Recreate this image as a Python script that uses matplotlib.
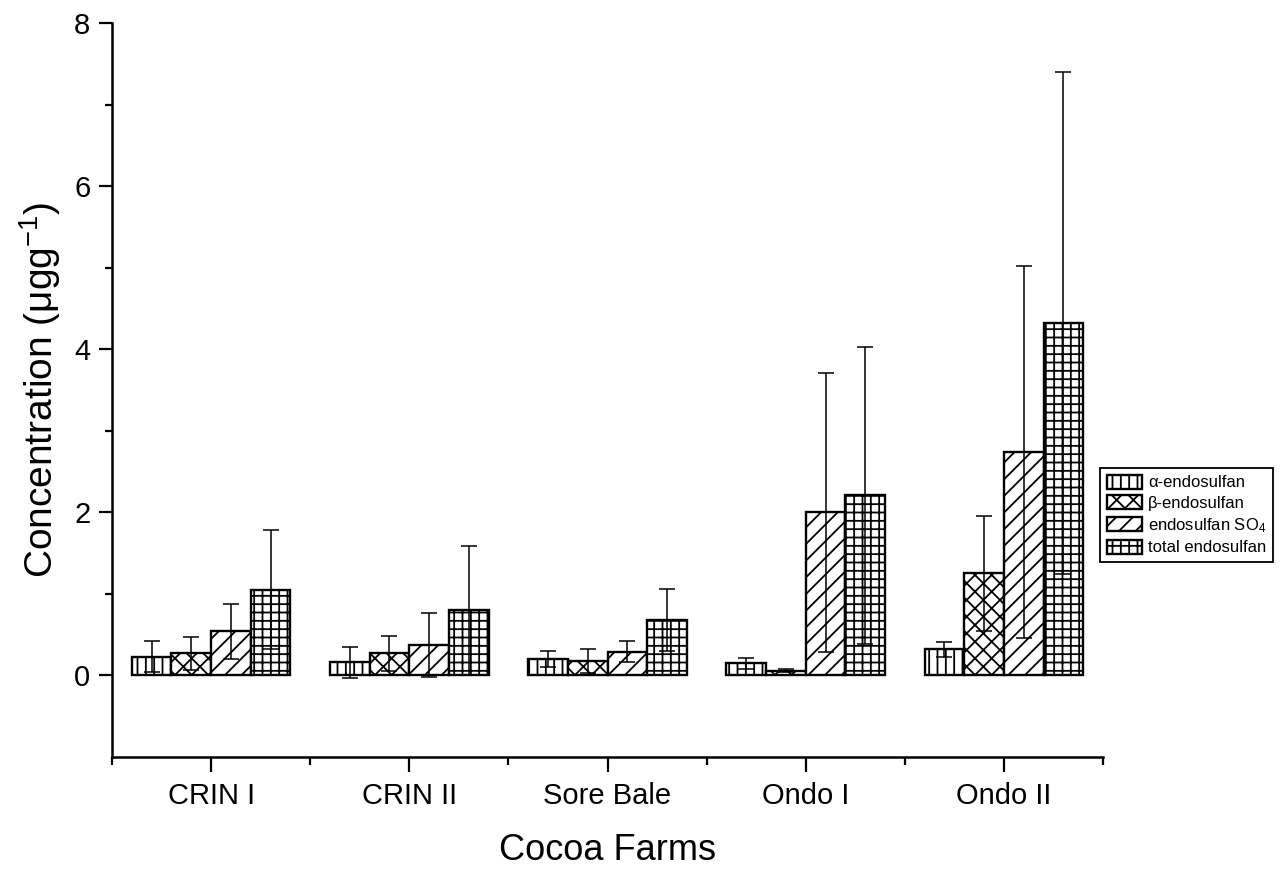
import matplotlib
matplotlib.use('Agg')
import matplotlib.pyplot as plt
from matplotlib.ticker import FixedLocator
import numpy as np

plt.rcParams['font.family'] = ['Liberation Sans', 'DejaVu Sans']
plt.rcParams['mathtext.fontset'] = 'custom'
plt.rcParams['mathtext.rm'] = 'Liberation Sans'
plt.rcParams['mathtext.it'] = 'Liberation Sans:italic'
plt.rcParams['hatch.linewidth'] = 1.3

# farms on the x axis
farms = ['CRIN I', 'CRIN II', 'Sore Bale', 'Ondo I', 'Ondo II']

# mean concentrations and error bars (ug/g)
alpha = [0.23, 0.16, 0.20, 0.15, 0.32]
alpha_err = [0.19, 0.19, 0.10, 0.07, 0.09]
beta = [0.27, 0.27, 0.18, 0.06, 1.25]
beta_err = [0.20, 0.21, 0.15, 0.02, 0.71]
so4 = [0.54, 0.37, 0.29, 2.00, 2.74]
so4_err = [0.34, 0.39, 0.13, 1.71, 2.28]
total = [1.05, 0.80, 0.68, 2.21, 4.32]
total_err = [0.73, 0.79, 0.38, 1.82, 3.08]

series = [
    (alpha, alpha_err, '||', '\u03b1-endosulfan'),
    (beta, beta_err, 'xx', '\u03b2-endosulfan'),
    (so4, so4_err, '//', 'endosulfan SO$_4$'),
    (total, total_err, '++', 'total endosulfan'),
]

fig = plt.figure(figsize=(12.85, 8.71), dpi=100)
ax = fig.add_axes([112 / 1285, 114 / 871, 991 / 1285, 734 / 871])

x = np.arange(1, len(farms) + 1)
width = 0.2
offsets = [-0.3, -0.1, 0.1, 0.3]

handles = []
for (vals, errs, hatch, label), off in zip(series, offsets):
    b = ax.bar(x + off, vals, width, yerr=errs, facecolor='white', edgecolor='black',
               linewidth=1.7, hatch=hatch, label=label,
               error_kw=dict(ecolor='black', elinewidth=1.1, capsize=5.5, capthick=1.1))
    handles.append(b)

ax.set_xlim(0.5, 5.5)
ax.set_ylim(-1, 8)
ax.set_xticks(x)
ax.set_xticklabels(farms)
ax.xaxis.set_minor_locator(FixedLocator(np.arange(0.5, 5.6, 1.0)))
ax.set_yticks([0, 2, 4, 6, 8])
ax.yaxis.set_minor_locator(FixedLocator([1, 3, 5, 7]))

for s in ['top', 'right']:
    ax.spines[s].set_visible(False)
for s in ['left', 'bottom']:
    ax.spines[s].set_linewidth(1.8)

ax.tick_params(axis='x', which='major', length=11, width=1.6, labelsize=21, pad=7)
ax.tick_params(axis='x', which='minor', length=6, width=1.6)
ax.tick_params(axis='y', which='major', length=9.5, width=1.6, labelsize=21, pad=6)
ax.tick_params(axis='y', which='minor', length=5, width=1.6)

ax.set_xlabel('Cocoa Farms', fontsize=26)
ax.xaxis.set_label_coords(0.5, -0.103)
ax.set_ylabel('Concentration (\u03bcgg$^{\\mathregular{-1}}$)', fontsize=28, labelpad=8)

leg = ax.legend(handles=handles, loc='upper left', bbox_to_anchor=(1100 / 1285, 1 - 468 / 871),
                bbox_transform=fig.transFigure, borderaxespad=0, fontsize=12,
                fancybox=False, framealpha=1, edgecolor='black', handlelength=2.1,
                handleheight=0.9, handletextpad=0.4, labelspacing=0.3, borderpad=0.4)
leg.get_frame().set_linewidth(1.3)

fig.savefig('out.png', dpi=100)
